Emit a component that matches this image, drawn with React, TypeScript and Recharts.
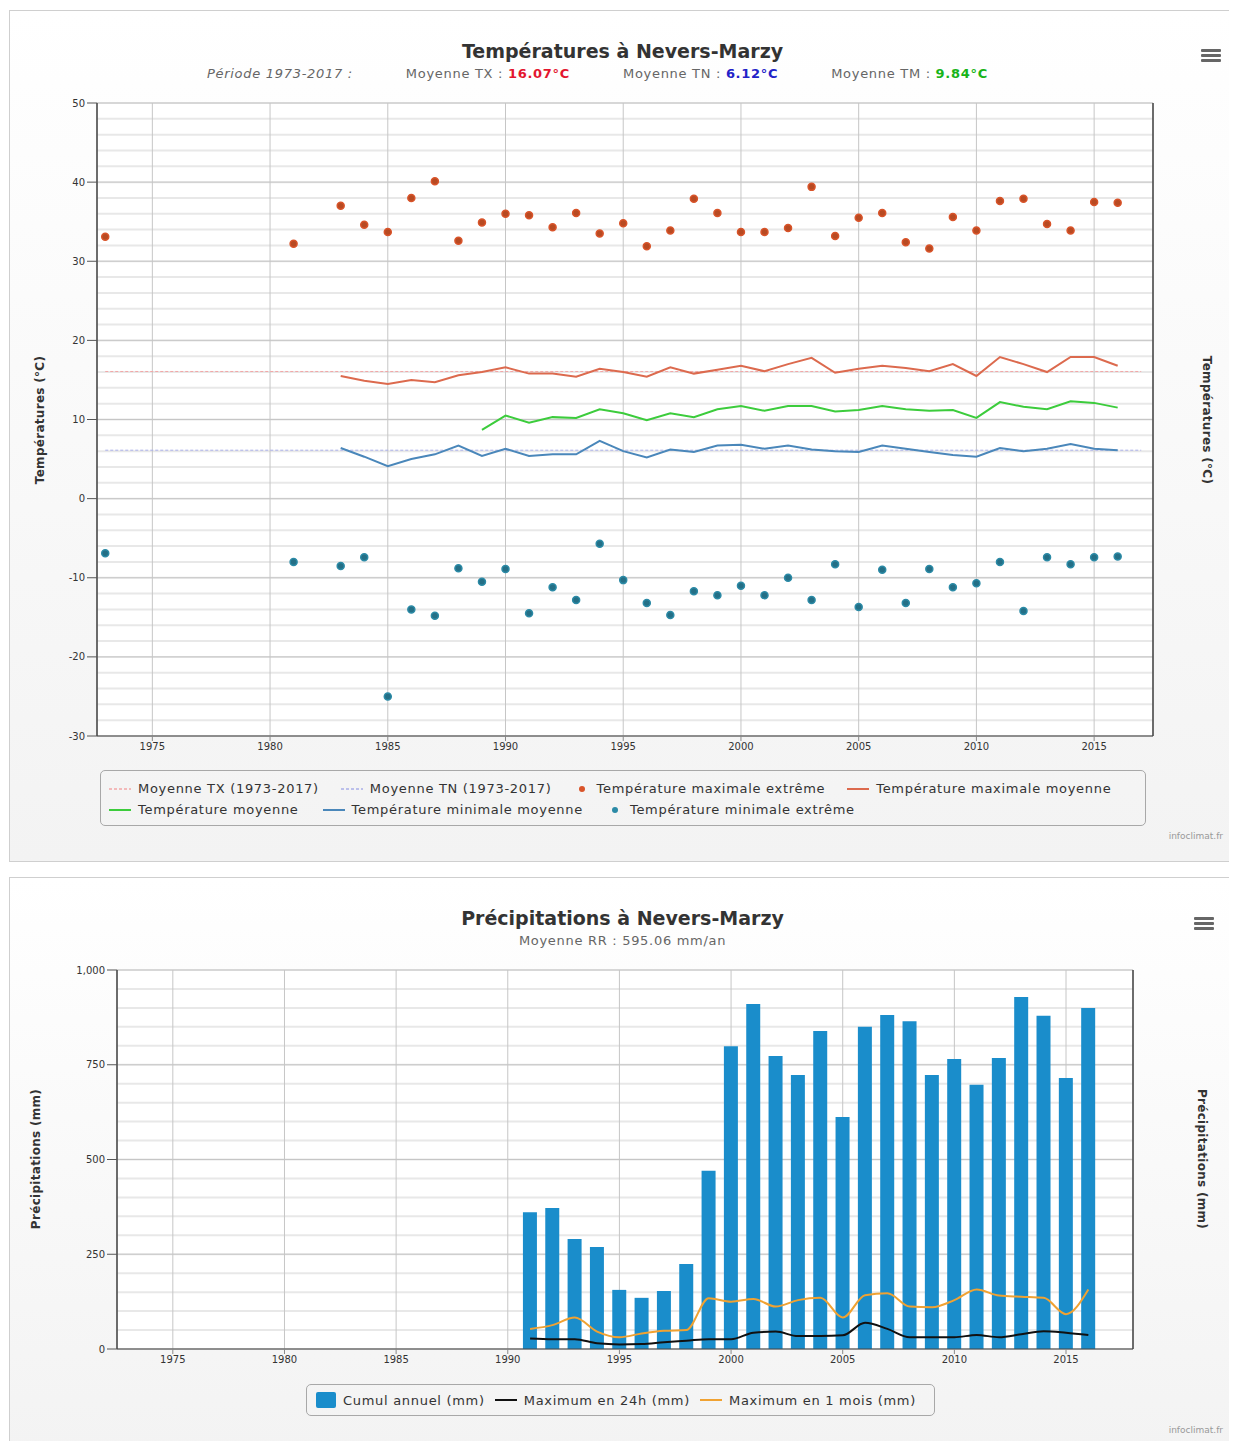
import React from 'react';
import { ComposedChart, Line, Bar, XAxis, YAxis, CartesianGrid, ReferenceLine } from 'recharts';

// ---- temperatures (1973-2016) ----
const years = [
  1973, 1974, 1975, 1976, 1977, 1978, 1979, 1980, 1981, 1982,
  1983, 1984, 1985, 1986, 1987, 1988, 1989, 1990, 1991, 1992,
  1993, 1994, 1995, 1996, 1997, 1998, 1999, 2000, 2001, 2002,
  2003, 2004, 2005, 2006, 2007, 2008, 2009, 2010, 2011, 2012,
  2013, 2014, 2015, 2016,
];
const tmaxExtreme = [
  33.1, null, null, null, null, null, null, null, 32.2, null,
  37.0, 34.6, 33.7, 38.0, 40.1, 32.6, 34.9, 36.0, 35.8, 34.3,
  36.1, 33.5, 34.8, 31.9, 33.9, 37.9, 36.1, 33.7, 33.7, 34.2,
  39.4, 33.2, 35.5, 36.1, 32.4, 31.6, 35.6, 33.9, 37.6, 37.9,
  34.7, 33.9, 37.5, 37.4,
];
const tminExtreme = [
  -6.9, null, null, null, null, null, null, null, -8.0, null,
  -8.5, -7.4, -25.0, -14.0, -14.8, -8.8, -10.5, -8.9, -14.5, -11.2,
  -12.8, -5.7, -10.3, -13.2, -14.7, -11.7, -12.2, -11.0, -12.2, -10.0,
  -12.8, -8.3, -13.7, -9.0, -13.2, -8.9, -11.2, -10.7, -8.0, -14.2,
  -7.4, -8.3, -7.4, -7.3,
];
const tmaxMean = [
  null, null, null, null, null, null, null, null, null, null,
  15.5, 14.9, 14.5, 15.0, 14.7, 15.6, 16.0, 16.6, 15.8, 15.8,
  15.4, 16.4, 16.0, 15.4, 16.6, 15.8, 16.3, 16.8, 16.1, 17.0,
  17.8, 15.9, 16.4, 16.8, 16.5, 16.1, 17.0, 15.5, 17.9, 17.0,
  16.0, 17.9, 17.9, 16.8,
];
const tMean = [
  null, null, null, null, null, null, null, null, null, null,
  null, null, null, null, null, null, 8.7, 10.5, 9.6, 10.3,
  10.2, 11.3, 10.8, 9.9, 10.8, 10.3, 11.3, 11.7, 11.1, 11.7,
  11.7, 11.0, 11.2, 11.7, 11.3, 11.1, 11.2, 10.2, 12.2, 11.6,
  11.3, 12.3, 12.1, 11.5,
];
const tminMean = [
  null, null, null, null, null, null, null, null, null, null,
  6.4, 5.3, 4.1, 5.0, 5.6, 6.7, 5.4, 6.3, 5.4, 5.6,
  5.6, 7.3, 6.0, 5.2, 6.2, 5.9, 6.7, 6.8, 6.3, 6.7,
  6.2, 6.0, 5.9, 6.7, 6.3, 5.9, 5.5, 5.3, 6.4, 6.0,
  6.3, 6.9, 6.3, 6.1,
];
const TX_AVG = 16.07;
const TN_AVG = 6.12;
const TM_AVG = 9.84;
const PERIOD_START = 1973;
const PERIOD_END = 2017;

const tempTicks = [-30, -20, -10, 0, 10, 20, 30, 40, 50];
const tempMinorTicks = [
  -30, -28, -26, -24, -22, -20, -18, -16, -14, -12, -10, -8, -6, -4, -2,
  0, 2, 4, 6, 8, 10, 12, 14, 16, 18, 20, 22, 24, 26, 28, 30, 32, 34, 36, 38, 40,
  42, 44, 46, 48, 50,
];
const yearTicks = [1975, 1980, 1985, 1990, 1995, 2000, 2005, 2010, 2015];

// ---- precipitations (1991-2016) ----
const rainYears = [
  1991, 1992, 1993, 1994, 1995, 1996, 1997, 1998, 1999, 2000,
  2001, 2002, 2003, 2004, 2005, 2006, 2007, 2008, 2009, 2010,
  2011, 2012, 2013, 2014, 2015, 2016,
];
const rainTotal = [
  361, 372, 290, 269, 156, 135, 153, 224, 470, 799,
  910, 773, 723, 839, 612, 850, 881, 865, 723, 765,
  697, 768, 929, 879, 715, 900,
];
const rainMax24h = [
  28, 26, 26, 15, 12, 13, 18, 22, 26, 26,
  43, 46, 34, 34, 36, 69, 53, 31, 31, 31,
  37, 31, 39, 47, 43, 37,
];
const rainMax1m = [
  53, 63, 83, 46, 31, 41, 48, 50, 134, 125,
  132, 112, 129, 135, 83, 142, 147, 112, 110, 129,
  157, 141, 138, 135, 92, 157,
];
const RR_AVG = 595.06;
const rainTicks = [0, 250, 500, 750, 1000];
const rainMinorTicks = [
  0, 50, 100, 150, 200, 250, 300, 350, 400, 450, 500,
  550, 600, 650, 700, 750, 800, 850, 900, 950, 1000,
];

const tempData = years.map((year, i) => ({
  year,
  tmaxExt: tmaxExtreme[i],
  tminExt: tminExtreme[i],
  tmaxMean: tmaxMean[i],
  tMean: tMean[i],
  tminMean: tminMean[i],
}));

const rainData = rainYears.map((year, i) => ({
  year,
  total: rainTotal[i],
  max24h: rainMax24h[i],
  max1m: rainMax1m[i],
}));

const C = {
  txDash: '#f2a6a6',
  tnDash: '#a9aee8',
  tmaxExt: '#d9542a',
  tmaxMean: '#dc6a4e',
  tMean: '#3ccc3c',
  tminMean: '#4a87ba',
  tminExt: '#2b8aa6',
  bar: '#1a8dcb',
  max24h: '#111111',
  max1m: '#f0a232',
};

const tempLegend = [
  { label: 'Moyenne TX (1973-2017)', kind: 'dash', color: C.txDash },
  { label: 'Moyenne TN (1973-2017)', kind: 'dash', color: C.tnDash },
  { label: 'Température maximale extrême', kind: 'dot', color: C.tmaxExt },
  { label: 'Température maximale moyenne', kind: 'line', color: C.tmaxMean },
  { label: 'Température moyenne', kind: 'line', color: C.tMean },
  { label: 'Température minimale moyenne', kind: 'line', color: C.tminMean },
  { label: 'Température minimale extrême', kind: 'dot', color: C.tminExt },
];

const rainLegend = [
  { label: 'Cumul annuel (mm)', kind: 'square', color: C.bar },
  { label: 'Maximum en 24h (mm)', kind: 'line', color: C.max24h },
  { label: 'Maximum en 1 mois (mm)', kind: 'line', color: C.max1m },
];

const FONT = '"DejaVu Sans", Verdana, sans-serif';
const tickStyle = { fontSize: 10, fill: '#333', fontFamily: FONT };
const textStyle: React.CSSProperties = { fontSize: 13, letterSpacing: 0.7 };

// grid lines every 2 °C / 50 mm, placed through the y scale
const minorLines = (ticks: number[], lo: number, hi: number) => (props: any) => {
  const { yAxis, offset } = props;
  if (yAxis && typeof yAxis.scale === 'function') return ticks.map((t) => yAxis.scale(t));
  return ticks.map((t) => offset.top + (offset.height * (hi - t)) / (hi - lo));
};

const AxisTitle = ({ cx, cy, angle, text }: { cx: number; cy: number; angle: number; text: string }) => (
  <div
    style={{
      position: 'absolute',
      left: cx,
      top: cy,
      transform: `translate(-50%, -50%) rotate(${angle}deg)`,
      whiteSpace: 'nowrap',
      fontSize: 12,
      fontWeight: 'bold',
      letterSpacing: 0.3,
      color: '#333',
    }}
  >
    {text}
  </div>
);

const LegendSymbol = ({ kind, color }: { kind: string; color: string }) => {
  if (kind === 'dot')
    return (
      <svg width={16} height={12}>
        <circle cx={8} cy={6} r={3} fill={color} />
      </svg>
    );
  if (kind === 'square')
    return (
      <svg width={20} height={16}>
        <rect x={0} y={0} width={20} height={16} rx={2} fill={color} />
      </svg>
    );
  return (
    <svg width={22} height={12}>
      <line
        x1={0}
        y1={6}
        x2={22}
        y2={6}
        stroke={color}
        strokeWidth={kind === 'dash' ? 1.5 : 2}
        strokeDasharray={kind === 'dash' ? '3 2' : undefined}
      />
    </svg>
  );
};

const LegendItem = ({ item }: { item: any }) => (
  <div style={{ display: 'flex', alignItems: 'center', gap: 7, whiteSpace: 'nowrap' }}>
    <LegendSymbol kind={item.kind} color={item.color} />
    <span>{item.label}</span>
  </div>
);

const Burger = ({ left, top }: { left: number; top: number }) => (
  <div style={{ position: 'absolute', left, top, width: 20 }}>
    {[0, 1, 2].map((k) => (
      <div key={k} style={{ height: 3, background: '#666', marginBottom: 2, borderRadius: 1 }} />
    ))}
  </div>
);

const boxStyle: React.CSSProperties = {
  position: 'absolute',
  left: 1,
  width: 1227,
  boxSizing: 'border-box',
  border: '1px solid #cfcfcf',
  background: 'linear-gradient(#ffffff, #f3f3f3)',
  fontFamily: FONT,
  color: '#333',
  overflow: 'hidden',
};

const yAxisCommon = {
  width: 60,
  tick: tickStyle,
  axisLine: { stroke: '#444', strokeWidth: 1.5 },
  tickLine: { stroke: '#555' },
  tickSize: 10,
  tickMargin: 2,
};

const TemperatureChart = () => (
  <div style={{ ...boxStyle, top: 2, height: 852 }}>
    <div style={{ position: 'absolute', left: 0, width: 1225, top: 29, textAlign: 'center', fontSize: 19, fontWeight: 'bold', color: '#333' }}>
      Températures à Nevers-Marzy
    </div>
    <div style={{ position: 'absolute', left: 197, top: 55, display: 'flex', gap: 53, ...textStyle, color: '#666' }}>
      <span style={{ fontStyle: 'italic' }}>Période {PERIOD_START}-{PERIOD_END} :</span>
      <span>Moyenne TX : <b style={{ color: '#e3162f' }}>{TX_AVG.toFixed(2)}°C</b></span>
      <span>Moyenne TN : <b style={{ color: '#2222c8' }}>{TN_AVG.toFixed(2)}°C</b></span>
      <span>Moyenne TM : <b style={{ color: '#18b418' }}>{TM_AVG.toFixed(2)}°C</b></span>
    </div>
    <Burger left={1191} top={38} />
    <div style={{ position: 'absolute', left: 0, top: 0 }}>
      <ComposedChart width={1225} height={760} data={tempData} margin={{ top: 92, right: 22, bottom: 5, left: 27 }}>
        <CartesianGrid
          yAxisId="left"
          vertical={false}
          fill="#ffffff"
          stroke="#e8e8e8"
          strokeWidth={2}
          horizontalCoordinatesGenerator={minorLines(tempMinorTicks, -30, 50)}
        />
        <CartesianGrid yAxisId="left" stroke="#c6c6c6" />
        <XAxis
          type="number"
          dataKey="year"
          domain={[1972.65, 2017.5]}
          ticks={yearTicks}
          allowDataOverflow
          tick={tickStyle}
          axisLine={{ stroke: '#444' }}
          tickLine={{ stroke: '#888' }}
          tickSize={5}
          height={30}
        />
        <YAxis yAxisId="left" domain={[-30, 50]} ticks={tempTicks} {...yAxisCommon} />
        <YAxis yAxisId="right" orientation="right" domain={[-30, 50]} ticks={tempTicks} {...yAxisCommon} />
        <ReferenceLine
          yAxisId="left"
          segment={[{ x: PERIOD_START, y: TX_AVG }, { x: PERIOD_END, y: TX_AVG }]}
          stroke={C.txDash}
          strokeDasharray="3 2"
        />
        <ReferenceLine
          yAxisId="left"
          segment={[{ x: PERIOD_START, y: TN_AVG }, { x: PERIOD_END, y: TN_AVG }]}
          stroke={C.tnDash}
          strokeDasharray="3 2"
        />
        <Line yAxisId="left" dataKey="tmaxMean" type="linear" stroke={C.tmaxMean} strokeWidth={2} dot={false} isAnimationActive={false} />
        <Line yAxisId="left" dataKey="tMean" type="linear" stroke={C.tMean} strokeWidth={2} dot={false} isAnimationActive={false} />
        <Line yAxisId="left" dataKey="tminMean" type="linear" stroke={C.tminMean} strokeWidth={2} dot={false} isAnimationActive={false} />
        <Line
          yAxisId="left"
          dataKey="tmaxExt"
          stroke="none"
          dot={{ r: 3.5, fill: '#b84a22', stroke: C.tmaxExt, strokeWidth: 1.5 }}
          activeDot={false}
          isAnimationActive={false}
        />
        <Line
          yAxisId="left"
          dataKey="tminExt"
          stroke="none"
          dot={{ r: 3.5, fill: '#246f86', stroke: C.tminExt, strokeWidth: 1.5 }}
          activeDot={false}
          isAnimationActive={false}
        />
      </ComposedChart>
    </div>
    <AxisTitle cx={30} cy={409} angle={-90} text="Températures (°C)" />
    <AxisTitle cx={1197} cy={409} angle={90} text="Températures (°C)" />
    <div
      style={{
        position: 'absolute',
        left: 90,
        top: 759,
        width: 1046,
        height: 56,
        boxSizing: 'border-box',
        border: '1px solid #a8a8a8',
        borderRadius: 5,
        padding: '7px 0 0 8px',
        ...textStyle,
        color: '#333',
      }}
    >
      <div style={{ display: 'flex', gap: 22, height: 21, alignItems: 'center' }}>
        {tempLegend.slice(0, 4).map((it) => <LegendItem key={it.label} item={it} />)}
      </div>
      <div style={{ display: 'flex', gap: 24, height: 21, alignItems: 'center' }}>
        {tempLegend.slice(4).map((it) => <LegendItem key={it.label} item={it} />)}
      </div>
    </div>
    <div style={{ position: 'absolute', right: 12, top: 820, fontSize: 9, color: '#999' }}>infoclimat.fr</div>
  </div>
);

const RainChart = () => (
  <div style={{ ...boxStyle, top: 869, height: 572 }}>
    <div style={{ position: 'absolute', left: 0, width: 1225, top: 29, textAlign: 'center', fontSize: 19, fontWeight: 'bold', color: '#333' }}>
      Précipitations à Nevers-Marzy
    </div>
    <div style={{ position: 'absolute', left: 0, width: 1225, top: 55, textAlign: 'center', ...textStyle, color: '#666' }}>
      Moyenne RR : {RR_AVG.toFixed(2)} mm/an
    </div>
    <Burger left={1184} top={39} />
    <div style={{ position: 'absolute', left: 0, top: 0 }}>
      <ComposedChart width={1225} height={506} data={rainData} margin={{ top: 92, right: 42, bottom: 5, left: 47 }}>
        <CartesianGrid
          yAxisId="left"
          vertical={false}
          fill="#ffffff"
          stroke="#e8e8e8"
          strokeWidth={2}
          horizontalCoordinatesGenerator={minorLines(rainMinorTicks, 0, 1000)}
        />
        <CartesianGrid yAxisId="left" stroke="#c6c6c6" />
        <XAxis
          type="number"
          dataKey="year"
          domain={[1972.5, 2018]}
          ticks={yearTicks}
          allowDataOverflow
          tick={tickStyle}
          axisLine={{ stroke: '#444' }}
          tickLine={{ stroke: '#888' }}
          tickSize={5}
          height={30}
        />
        <YAxis
          yAxisId="left"
          domain={[0, 1000]}
          ticks={rainTicks}
          tickFormatter={(v: number) => v.toLocaleString('en-US')}
          {...yAxisCommon}
        />
        <YAxis
          yAxisId="right"
          orientation="right"
          domain={[0, 1000]}
          ticks={rainTicks}
          tickFormatter={(v: number) => v.toLocaleString('en-US')}
          {...yAxisCommon}
        />
        <Bar yAxisId="left" dataKey="total" fill={C.bar} barSize={14} isAnimationActive={false} />
        <Line yAxisId="left" dataKey="max24h" type="monotone" stroke={C.max24h} strokeWidth={2} dot={false} isAnimationActive={false} />
        <Line yAxisId="left" dataKey="max1m" type="monotone" stroke={C.max1m} strokeWidth={2} dot={false} isAnimationActive={false} />
      </ComposedChart>
    </div>
    <AxisTitle cx={26} cy={281} angle={-90} text="Précipitations (mm)" />
    <AxisTitle cx={1192} cy={281} angle={90} text="Précipitations (mm)" />
    <div
      style={{
        position: 'absolute',
        left: 296,
        top: 506,
        width: 629,
        height: 32,
        boxSizing: 'border-box',
        border: '1px solid #a8a8a8',
        borderRadius: 5,
        padding: '0 0 0 9px',
        display: 'flex',
        alignItems: 'center',
        gap: 10,
        ...textStyle,
        color: '#333',
      }}
    >
      {rainLegend.map((it) => <LegendItem key={it.label} item={it} />)}
    </div>
    <div style={{ position: 'absolute', right: 12, top: 547, fontSize: 9, color: '#999' }}>infoclimat.fr</div>
  </div>
);

export default function App() {
  return (
    <div style={{ position: 'relative', width: 1229, height: 1433 }}>
      <TemperatureChart />
      <RainChart />
    </div>
  );
}
